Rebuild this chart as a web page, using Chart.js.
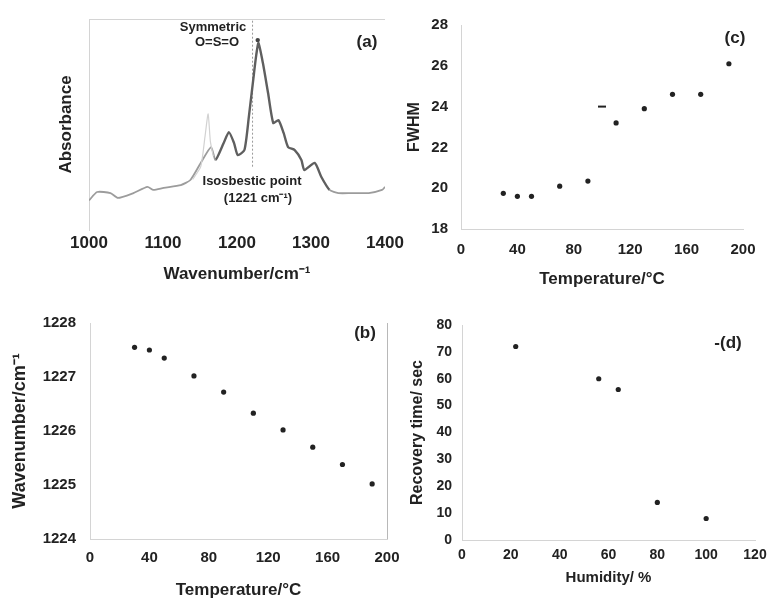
<!DOCTYPE html>
<html>
<head>
<meta charset="utf-8">
<script src="https://cdn.jsdelivr.net/npm/chart.js@4.4.1/dist/chart.umd.min.js"></script>
<style>
  html, body { margin: 0; padding: 0; background: #fff; }
  #wrap { position: relative; width: 767px; height: 601px; overflow: hidden; background: #fff; }
  #wrap canvas { position: absolute; left: 0; top: 0; }
</style>
</head>
<body>
<div id="wrap">
  <canvas id="chartA" width="767" height="601"></canvas>
  <canvas id="chartB" width="767" height="601"></canvas>
  <canvas id="chartC" width="767" height="601"></canvas>
  <canvas id="chartD" width="767" height="601"></canvas>
</div>
<script>
// (a) FTIR spectrum (absorbance in arbitrary units 0..1)
const specWavenumber = [1000, 1011, 1029, 1039, 1060, 1079, 1087, 1101, 1124, 1137, 1151, 1165, 1171, 1182, 1189, 1196, 1201, 1210, 1216, 1223, 1226, 1229, 1235, 1242, 1249, 1256, 1263, 1269, 1278, 1287, 1291, 1305, 1314, 1325, 1337, 1355, 1378, 1396, 1400];
const specAbsorbance = [0.14, 0.18, 0.175, 0.152, 0.175, 0.204, 0.19, 0.2, 0.213, 0.237, 0.318, 0.393, 0.332, 0.412, 0.464, 0.412, 0.355, 0.379, 0.536, 0.744, 0.829, 0.886, 0.791, 0.649, 0.507, 0.521, 0.46, 0.393, 0.379, 0.332, 0.284, 0.318, 0.251, 0.19, 0.175, 0.175, 0.175, 0.19, 0.204];
// faint overlapping trace near 1160
const faintWavenumber = [1140, 1151, 1157, 1161, 1164, 1168];
const faintAbsorbance = [0.24, 0.3, 0.45, 0.55, 0.42, 0.35];
// the band where the overlaid spectra show up darker
const darkBand = [1168, 1325];
const isosbesticWn = 1221;
const peakMarker = { x: 1228, y: 0.9 };
const wnTicks = { min: 1000, max: 1400, step: 100 };

// (b) peak position vs temperature
const tempB = [30, 40, 50, 70, 90, 110, 130, 150, 170, 190];
const peakWn = [1227.55, 1227.5, 1227.35, 1227.02, 1226.72, 1226.33, 1226.02, 1225.7, 1225.38, 1225.02];

// (c) FWHM vs temperature
const tempC = [30, 40, 50, 70, 90, 100, 110, 130, 150, 170, 190];
const fwhm = [19.75, 19.6, 19.6, 20.1, 20.35, 24.0, 23.2, 23.9, 24.6, 24.6, 26.1];

// (d) recovery time vs humidity
const humidity = [22, 56, 64, 80, 100];
const recovery = [72, 60, 56, 14, 8];

const FONT = '"Liberation Sans", Arial, sans-serif';
const INK = '#222';
const AXIS_LINE = '#d4d4d4';

Chart.defaults.font.family = FONT;
Chart.defaults.color = INK;

const toPoints = (xs, ys) => xs.map((x, i) => ({ x, y: ys[i] }));

// pin the scale box size so each panel sits where it does in the figure
function fixSize(size) {
  return scale => {
    if (scale.isHorizontal()) scale.height = size;
    else scale.width = size;
    scale.paddingLeft = scale.paddingRight = scale.paddingTop = scale.paddingBottom = 0;
  };
}

// panel letters, annotations and the odd frame edge
const decorations = {
  id: 'decorations',
  afterDraw(chart, args, opts) {
    const ctx = chart.ctx;
    const a = chart.chartArea;
    ctx.save();
    ctx.strokeStyle = opts.frameColor || AXIS_LINE;
    ctx.lineWidth = 1;
    (opts.frame || []).forEach(side => {
      ctx.beginPath();
      if (side === 'top') { ctx.moveTo(a.left, a.top + 0.5); ctx.lineTo(a.right, a.top + 0.5); }
      if (side === 'right') { ctx.moveTo(a.right + 0.5, a.top); ctx.lineTo(a.right + 0.5, a.bottom); }
      ctx.stroke();
    });
    ctx.fillStyle = INK;
    ctx.textAlign = 'center';
    ctx.textBaseline = 'middle';
    (opts.labels || []).forEach(l => {
      ctx.font = `bold ${l.size}px ${FONT}`;
      ctx.fillText(l.text, l.x, l.y);
    });
    ctx.restore();
  }
};

function axis(opts) {
  return {
    type: 'linear',
    min: opts.min,
    max: opts.max,
    afterFit: fixSize(opts.box),
    grid: { display: false, drawTicks: false },
    border: { display: true, color: opts.borderColor || AXIS_LINE, dash: opts.dash || [] },
    ticks: {
      display: opts.ticks !== false,
      stepSize: opts.step,
      padding: opts.tickPad,
      font: { size: opts.tickSize, weight: 'bold' },
      color: INK,
      callback: v => String(v)
    },
    title: {
      display: true,
      text: opts.title,
      font: { size: opts.titleSize, weight: 'bold' },
      color: INK,
      padding: opts.titlePad
    }
  };
}

function dots(xs, ys, extra) {
  return Object.assign({
    data: toPoints(xs, ys),
    showLine: false,
    pointRadius: 2.6,
    pointBackgroundColor: INK,
    pointBorderColor: INK,
    pointBorderWidth: 0
  }, extra || {});
}

function baseOptions(padding, scales, deco) {
  return {
    responsive: false,
    animation: false,
    devicePixelRatio: 1,
    layout: { padding },
    plugins: { legend: { display: false }, tooltip: { enabled: false }, decorations: deco },
    scales
  };
}

// (a)
new Chart(document.getElementById('chartA'), {
  type: 'scatter',
  data: {
    datasets: [
      {
        data: toPoints(faintWavenumber, faintAbsorbance),
        showLine: true, pointRadius: 0, borderColor: '#d2d2d2', borderWidth: 1.2, tension: 0.2
      },
      {
        data: toPoints(specWavenumber, specAbsorbance),
        showLine: true, pointRadius: 0, borderColor: '#5f5f5f', borderWidth: 2.3, tension: 0.2,
        segment: {
          borderColor: ctx => (ctx.p0.parsed.x >= darkBand[0] && ctx.p1.parsed.x <= darkBand[1] ? '#5f5f5f' : '#9c9c9c'),
          borderWidth: ctx => (ctx.p0.parsed.x >= darkBand[0] && ctx.p1.parsed.x <= darkBand[1] ? 2.4 : 1.8)
        }
      },
      {
        data: [{ x: isosbesticWn, y: 0.3 }, { x: isosbesticWn, y: 1.0 }],
        showLine: true, pointRadius: 0, borderColor: '#9a9a9a', borderWidth: 1, borderDash: [2, 2]
      },
      dots([peakMarker.x], [peakMarker.y], { pointRadius: 2.2, pointBackgroundColor: '#444' })
    ]
  },
  plugins: [decorations],
  options: baseOptions(
    { left: 0, top: 19, right: 382, bottom: 301 },
    {
      x: axis({ min: wnTicks.min, max: wnTicks.max, step: wnTicks.step, box: 70, tickPad: 3, tickSize: 17,
        title: 'Wavenumber/cm⁻¹', titleSize: 17, titlePad: { top: 0, bottom: 15 }, borderColor: 'rgba(0,0,0,0)' }),
      y: axis({ min: 0, max: 1, box: 89, ticks: false, tickPad: 0, tickSize: 15,
        title: 'Absorbance', titleSize: 17, titlePad: { top: 56, bottom: 0 } })
    },
    {
      frame: ['top'],
      labels: [
        { text: 'Symmetric', x: 213, y: 27, size: 13 },
        { text: 'O=S=O', x: 217, y: 42, size: 13 },
        { text: '(a)', x: 367, y: 42, size: 17 },
        { text: 'Isosbestic point', x: 252, y: 181, size: 13 },
        { text: '(1221 cm⁻¹)', x: 258, y: 198, size: 13 }
      ]
    }
  )
});

// (b)
new Chart(document.getElementById('chartB'), {
  type: 'scatter',
  data: { datasets: [dots(tempB, peakWn)] },
  plugins: [decorations],
  options: baseOptions(
    { left: 0, top: 323, right: 380, bottom: 0 },
    {
      x: axis({ min: 0, max: 200, step: 40, box: 62, tickPad: 10, tickSize: 15,
        title: 'Temperature/°C', titleSize: 17, titlePad: { top: 0, bottom: 0 }, dash: [6, 4] }),
      y: axis({ min: 1224, max: 1228, step: 1, box: 90, tickPad: 14, tickSize: 15,
        title: 'Wavenumber/cm⁻¹', titleSize: 18, titlePad: { top: 9, bottom: 0 } })
    },
    {
      frame: ['right'],
      frameColor: '#b8b8b8',
      labels: [{ text: '(b)', x: 365, y: 333, size: 17 }]
    }
  )
});

// (c)
new Chart(document.getElementById('chartC'), {
  type: 'scatter',
  data: {
    datasets: [dots(tempC, fwhm, {
      pointStyle: tempC.map((t, i) => (i === 5 ? 'line' : 'circle')),
      borderWidth: 2,
      pointBorderWidth: tempC.map((t, i) => (i === 5 ? 2 : 0)),
      pointRadius: tempC.map((t, i) => (i === 5 ? 4 : 2.6))
    })]
  },
  plugins: [decorations],
  options: baseOptions(
    { left: 400, top: 25, right: 24, bottom: 301 },
    {
      x: axis({ min: 0, max: 200, step: 40, box: 71, tickPad: 12, tickSize: 15,
        title: 'Temperature/°C', titleSize: 17, titlePad: { top: 0, bottom: 10 }, dash: [6, 4] }),
      y: axis({ min: 18, max: 28, step: 2, box: 61, tickPad: 13, tickSize: 15,
        title: 'FWHM', titleSize: 16, titlePad: { top: 5, bottom: 0 }, dash: [3, 3] })
    },
    { labels: [{ text: '(c)', x: 735, y: 38, size: 17 }] }
  )
});

// (d)
new Chart(document.getElementById('chartD'), {
  type: 'scatter',
  data: { datasets: [dots(humidity, recovery)] },
  plugins: [decorations],
  options: baseOptions(
    { left: 400, top: 325, right: 12, bottom: 0 },
    {
      x: axis({ min: 0, max: 120, step: 20, box: 61, tickPad: 7, tickSize: 14,
        title: 'Humidity/ %', titleSize: 15, titlePad: { top: 0, bottom: 14 }, dash: [6, 4] }),
      y: axis({ min: 0, max: 80, step: 10, box: 62, tickPad: 10, tickSize: 14,
        title: 'Recovery time/ sec', titleSize: 16, titlePad: { top: 8, bottom: 0 } })
    },
    { labels: [{ text: '-(d)', x: 728, y: 343, size: 17 }] }
  )
});
</script>
</body>
</html>
